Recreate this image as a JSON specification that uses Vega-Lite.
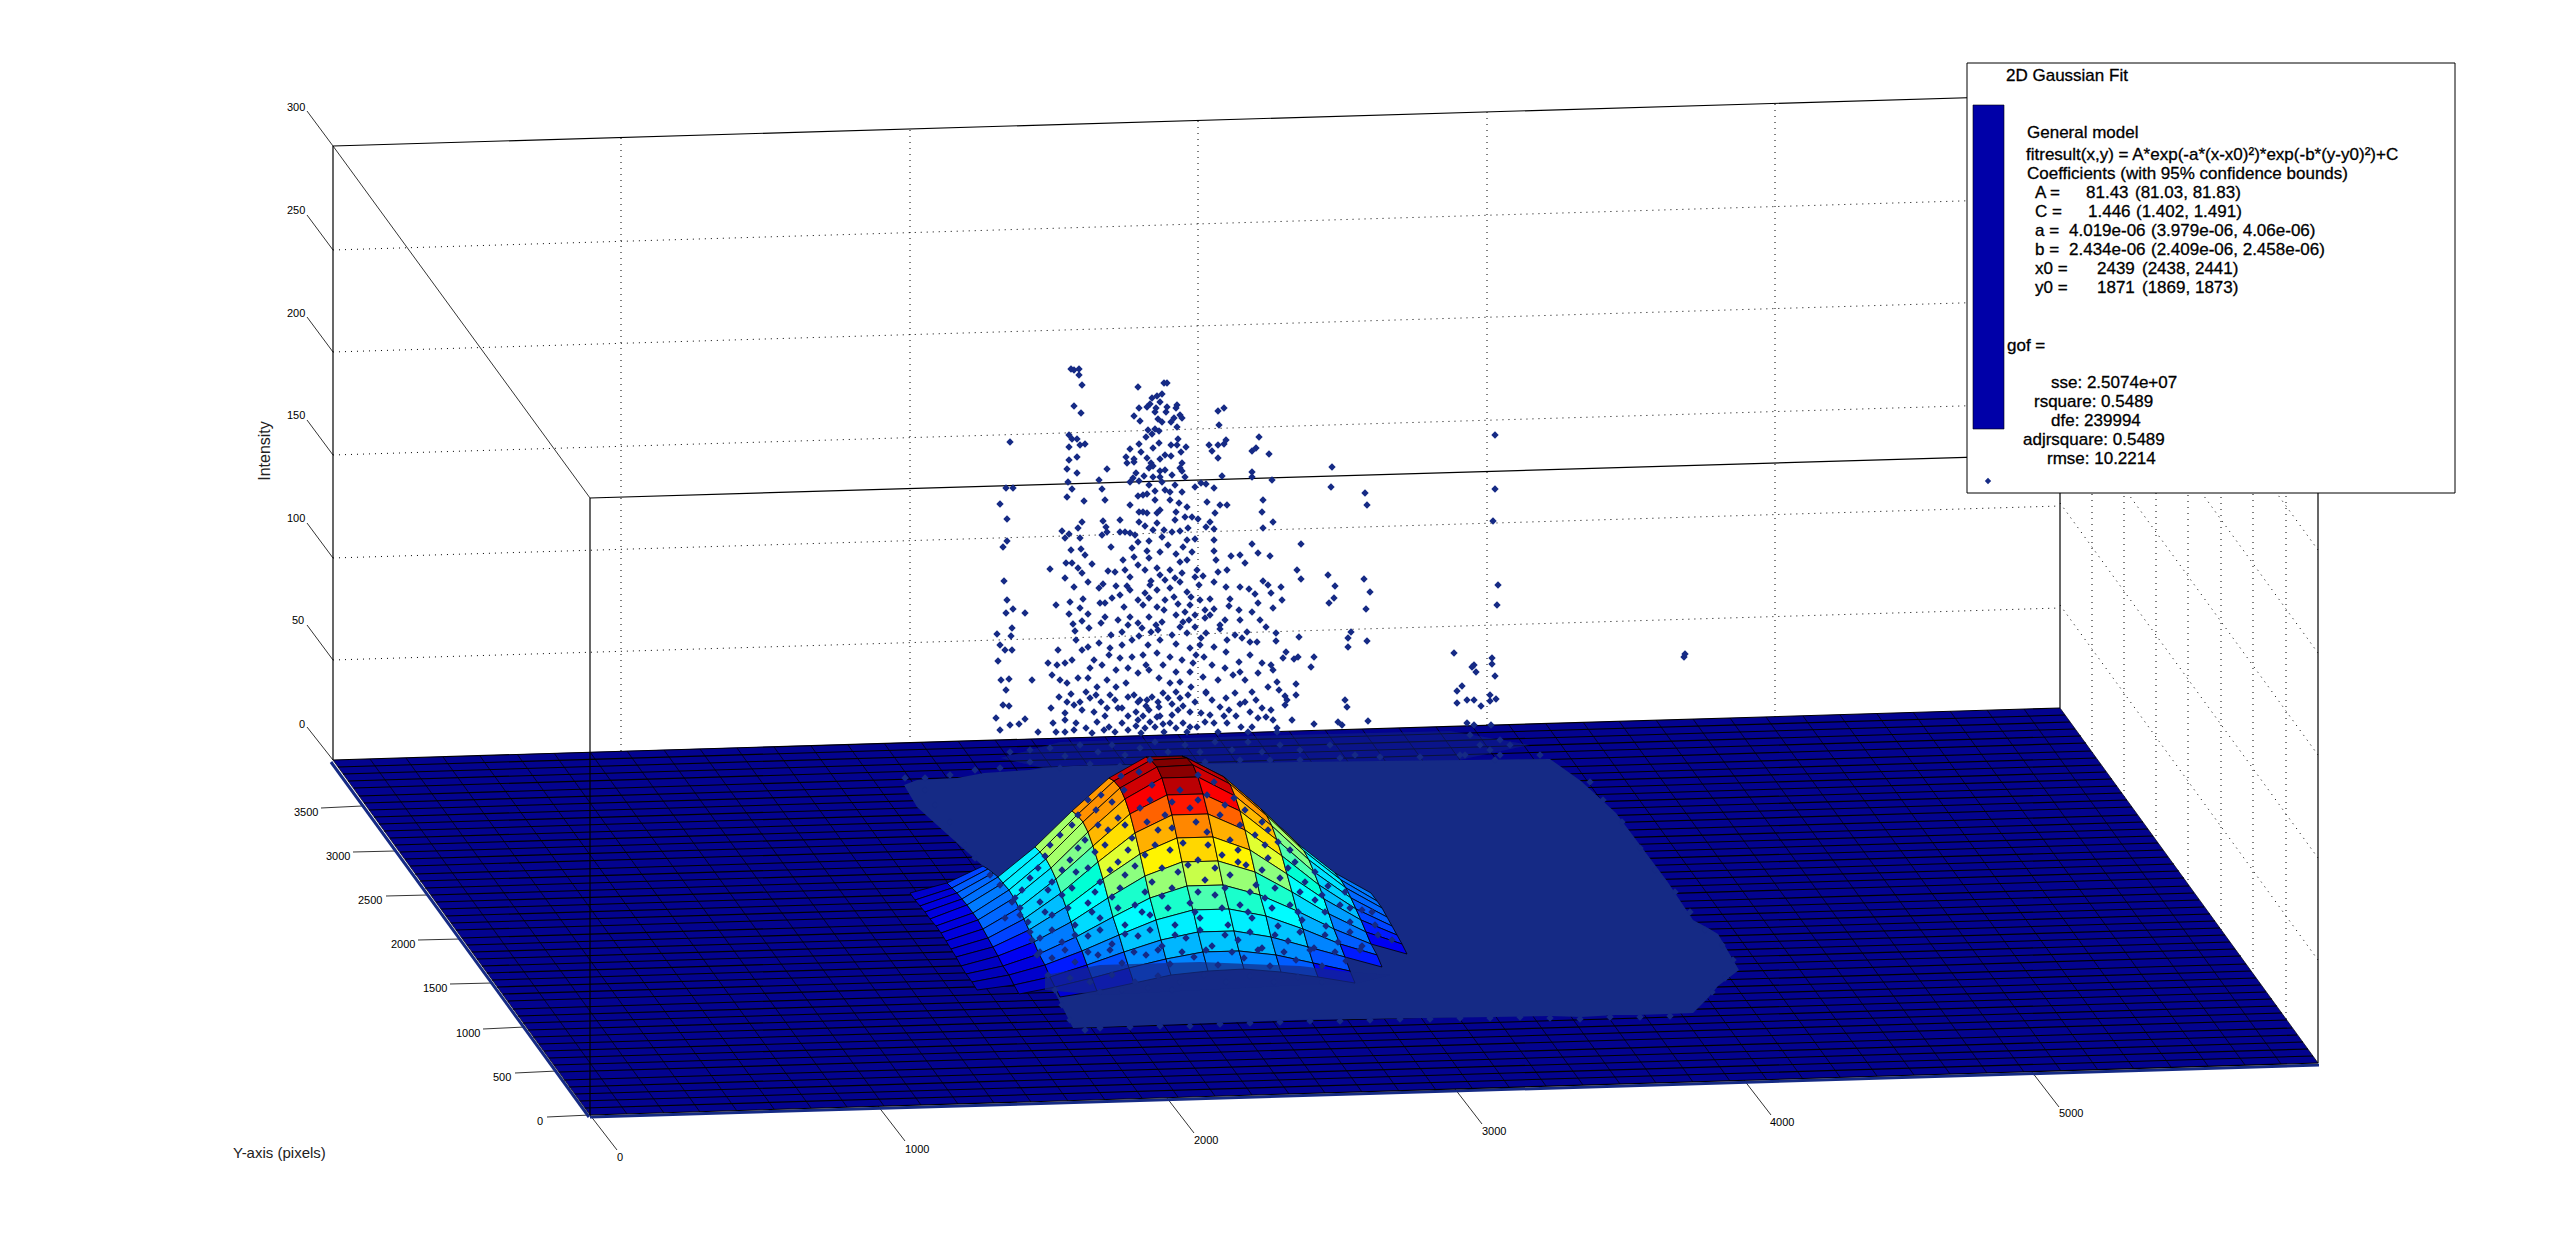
{"$schema":"https://vega.github.io/schema/vega-lite/v6.json","autosize":{"type":"fit","contains":"padding"},"width":2560,"height":1254,"padding":0,"background":"white","config":{"view":{"stroke":null}},
"datasets":{
"grid":[{"x":333,"y":250,"x2":2060,"y2":198},{"x":333,"y":352,"x2":2060,"y2":300},{"x":333,"y":455,"x2":2060,"y2":403},{"x":333,"y":558,"x2":2060,"y2":506},{"x":333,"y":660,"x2":2060,"y2":608},{"x":621,"y":751,"x2":621,"y2":137},{"x":910,"y":743,"x2":910,"y2":129},{"x":1198,"y":734,"x2":1198,"y2":120},{"x":1487,"y":725,"x2":1487,"y2":112},{"x":1775,"y":717,"x2":1775,"y2":103},{"x":2060,"y":605,"x2":2318,"y2":960},{"x":2060,"y":503,"x2":2318,"y2":858},{"x":2060,"y":400,"x2":2318,"y2":755},{"x":2060,"y":298,"x2":2318,"y2":653},{"x":2060,"y":195,"x2":2318,"y2":550},{"x":2286,"y":1019,"x2":2286,"y2":403},{"x":2253,"y":975,"x2":2253,"y2":358},{"x":2221,"y":930,"x2":2221,"y2":314},{"x":2188,"y":886,"x2":2188,"y2":270},{"x":2156,"y":842,"x2":2156,"y2":226},{"x":2124,"y":797,"x2":2124,"y2":181},{"x":2092,"y":753,"x2":2092,"y2":137}],
"box":[{"x":333,"y":146,"x2":333,"y2":760},{"x":333,"y":146,"x2":2060,"y2":95},{"x":590,"y":498,"x2":2318,"y2":447},{"x":2060,"y":95,"x2":2060,"y2":708},{"x":2318,"y":447,"x2":2318,"y2":1063}],
"front":[{"x":590,"y":498,"x2":590,"y2":1115}],
"ticks":[{"x":333,"y":146,"x2":590,"y2":498},{"x":333,"y":146,"x2":307,"y2":111},{"x":333,"y":250,"x2":307,"y2":215},{"x":333,"y":352,"x2":307,"y2":317},{"x":333,"y":455,"x2":307,"y2":420},{"x":333,"y":558,"x2":307,"y2":523},{"x":333,"y":660,"x2":307,"y2":625},{"x":333,"y":760,"x2":307,"y2":727},{"x":590,"y":1115,"x2":547,"y2":1117},{"x":557,"y":1071,"x2":515,"y2":1073},{"x":525,"y":1027,"x2":483,"y2":1029},{"x":492,"y":983,"x2":450,"y2":984},{"x":460,"y":939,"x2":418,"y2":940},{"x":427,"y":895,"x2":386,"y2":896},{"x":395,"y":851,"x2":353,"y2":852},{"x":362,"y":806,"x2":321,"y2":808},{"x":590,"y":1115,"x2":617,"y2":1150},{"x":878,"y":1106,"x2":905,"y2":1141},{"x":1167,"y":1098,"x2":1194,"y2":1133},{"x":1455,"y":1089,"x2":1482,"y2":1124},{"x":1744,"y":1080,"x2":1771,"y2":1115},{"x":2032,"y":1072,"x2":2059,"y2":1107}],
"floor":[{"x":333,"y":760,"y2":760},{"x":590,"y":752,"y2":1115},{"x":2060,"y":708,"y2":1071},{"x":2318,"y":1063,"y2":1063}],
"edge":[{"x":331,"y":762,"x2":589,"y2":1117},{"x":590,"y":1117,"x2":2319,"y2":1065}],
"rowlines":[{"x":590,"y":1115,"x2":2318,"y2":1063},{"x":585,"y":1108,"x2":2313,"y2":1056},{"x":580,"y":1101,"x2":2308,"y2":1049},{"x":575,"y":1094,"x2":2303,"y2":1042},{"x":569,"y":1087,"x2":2297,"y2":1035},{"x":564,"y":1080,"x2":2292,"y2":1028},{"x":559,"y":1072,"x2":2287,"y2":1020},{"x":554,"y":1065,"x2":2282,"y2":1013},{"x":549,"y":1058,"x2":2277,"y2":1006},{"x":544,"y":1051,"x2":2272,"y2":999},{"x":539,"y":1044,"x2":2266,"y2":992},{"x":533,"y":1037,"x2":2261,"y2":985},{"x":528,"y":1030,"x2":2256,"y2":978},{"x":523,"y":1023,"x2":2251,"y2":971},{"x":518,"y":1016,"x2":2246,"y2":964},{"x":513,"y":1009,"x2":2241,"y2":956},{"x":508,"y":1001,"x2":2235,"y2":949},{"x":503,"y":994,"x2":2230,"y2":942},{"x":497,"y":987,"x2":2225,"y2":935},{"x":492,"y":980,"x2":2220,"y2":928},{"x":487,"y":973,"x2":2215,"y2":921},{"x":482,"y":966,"x2":2210,"y2":914},{"x":477,"y":959,"x2":2204,"y2":907},{"x":472,"y":952,"x2":2199,"y2":900},{"x":467,"y":945,"x2":2194,"y2":893},{"x":462,"y":938,"x2":2189,"y2":886},{"x":456,"y":930,"x2":2184,"y2":878},{"x":451,"y":923,"x2":2179,"y2":871},{"x":446,"y":916,"x2":2174,"y2":864},{"x":441,"y":909,"x2":2168,"y2":857},{"x":436,"y":902,"x2":2163,"y2":850},{"x":431,"y":895,"x2":2158,"y2":843},{"x":425,"y":888,"x2":2153,"y2":836},{"x":420,"y":881,"x2":2148,"y2":829},{"x":415,"y":874,"x2":2143,"y2":822},{"x":410,"y":866,"x2":2137,"y2":815},{"x":405,"y":859,"x2":2132,"y2":807},{"x":400,"y":852,"x2":2127,"y2":800},{"x":395,"y":845,"x2":2122,"y2":793},{"x":390,"y":838,"x2":2117,"y2":786},{"x":384,"y":831,"x2":2112,"y2":779},{"x":379,"y":824,"x2":2106,"y2":772},{"x":374,"y":817,"x2":2101,"y2":765},{"x":369,"y":810,"x2":2096,"y2":758},{"x":364,"y":803,"x2":2091,"y2":751},{"x":359,"y":796,"x2":2086,"y2":743},{"x":354,"y":788,"x2":2081,"y2":736},{"x":348,"y":781,"x2":2075,"y2":729},{"x":343,"y":774,"x2":2070,"y2":722},{"x":338,"y":767,"x2":2065,"y2":715},{"x":333,"y":760,"x2":2060,"y2":708}],
"collines":[{"x":590,"y":1115,"x2":333,"y2":760},{"x":627,"y":1114,"x2":370,"y2":759},{"x":664,"y":1113,"x2":406,"y2":758},{"x":700,"y":1112,"x2":443,"y2":757},{"x":737,"y":1111,"x2":480,"y2":756},{"x":774,"y":1109,"x2":517,"y2":754},{"x":811,"y":1108,"x2":554,"y2":753},{"x":847,"y":1107,"x2":590,"y2":752},{"x":884,"y":1106,"x2":627,"y2":751},{"x":921,"y":1105,"x2":664,"y2":750},{"x":958,"y":1104,"x2":700,"y2":749},{"x":994,"y":1103,"x2":737,"y2":748},{"x":1031,"y":1102,"x2":774,"y2":747},{"x":1068,"y":1101,"x2":811,"y2":746},{"x":1105,"y":1100,"x2":848,"y2":745},{"x":1142,"y":1098,"x2":884,"y2":743},{"x":1178,"y":1097,"x2":921,"y2":742},{"x":1215,"y":1096,"x2":958,"y2":741},{"x":1252,"y":1095,"x2":995,"y2":740},{"x":1289,"y":1094,"x2":1031,"y2":739},{"x":1325,"y":1093,"x2":1068,"y2":738},{"x":1362,"y":1092,"x2":1105,"y2":737},{"x":1399,"y":1091,"x2":1142,"y2":736},{"x":1436,"y":1090,"x2":1178,"y2":735},{"x":1472,"y":1088,"x2":1215,"y2":733},{"x":1509,"y":1087,"x2":1252,"y2":732},{"x":1546,"y":1086,"x2":1289,"y2":731},{"x":1583,"y":1085,"x2":1325,"y2":730},{"x":1620,"y":1084,"x2":1362,"y2":729},{"x":1656,"y":1083,"x2":1399,"y2":728},{"x":1693,"y":1082,"x2":1436,"y2":727},{"x":1730,"y":1081,"x2":1472,"y2":726},{"x":1767,"y":1080,"x2":1509,"y2":725},{"x":1803,"y":1079,"x2":1546,"y2":724},{"x":1840,"y":1077,"x2":1583,"y2":722},{"x":1877,"y":1076,"x2":1619,"y2":721},{"x":1914,"y":1075,"x2":1656,"y2":720},{"x":1950,"y":1074,"x2":1693,"y2":719},{"x":1987,"y":1073,"x2":1730,"y2":718},{"x":2024,"y":1072,"x2":1766,"y2":717},{"x":2061,"y":1071,"x2":1803,"y2":716},{"x":2098,"y":1070,"x2":1840,"y2":715},{"x":2134,"y":1069,"x2":1877,"y2":714},{"x":2171,"y":1067,"x2":1913,"y2":712},{"x":2208,"y":1066,"x2":1950,"y2":711},{"x":2245,"y":1065,"x2":1987,"y2":710},{"x":2281,"y":1064,"x2":2024,"y2":709},{"x":2318,"y":1063,"x2":2060,"y2":708}],
"cloud":[{"x":904,"y":785,"y2":785},{"x":917,"y":780,"y2":807},{"x":957,"y":778,"y2":843},{"x":984,"y":773,"y2":867},{"x":1029,"y":770,"y2":927},{"x":1042,"y":768,"y2":967},{"x":1073,"y":766,"y2":1028},{"x":1296,"y":762,"y2":1020},{"x":1550,"y":759,"y2":1016},{"x":1581,"y":781,"y2":1017},{"x":1616,"y":813,"y2":1015},{"x":1637,"y":841,"y2":1015},{"x":1667,"y":881,"y2":1014},{"x":1693,"y":920,"y2":1013},{"x":1708,"y":928,"y2":998},{"x":1718,"y":934,"y2":986},{"x":1739,"y":970,"y2":970}],
"haze":[{"x":1000,"y":758,"y2":758},{"x":1060,"y":742,"y2":772},{"x":1250,"y":736,"y2":767},{"x":1450,"y":731,"y2":762},{"x":1530,"y":745,"y2":745}],
"veil":[{"x":1045,"y":975,"y2":990},{"x":1100,"y":965,"y2":995},{"x":1200,"y":962,"y2":990},{"x":1300,"y":966,"y2":985},{"x":1350,"y":972,"y2":985},{"x":1390,"y":975,"y2":975}],
"quads":[
{"q":200,"f":0.07,"x":[910,947,952,915],"y":[893,883,888,900]},{"q":201,"f":0.15,"x":[947,983,988,952],"y":[883,866,869,888]},{"q":202,"f":0.08,"x":[915,952,957,920],"y":[900,888,893,906]},{"q":203,"f":0.17,"x":[952,988,993,957],"y":[888,869,873,893]},{"q":204,"f":0.09,"x":[920,957,962,925],"y":[906,893,899,912]},{"q":205,"f":0.18,"x":[957,993,998,962],"y":[893,873,877,899]},{"q":206,"f":0.09,"x":[925,962,967,930],"y":[912,899,905,919]},{"q":207,"f":0.19,"x":[962,998,1003,967],"y":[899,877,883,905]},
{"q":0,"f":0.35,"x":[998,1035,1040,1003],"y":[877,847,852,883]},{"q":1,"f":0.55,"x":[1035,1072,1077,1040],"y":[847,811,815,852]},{"q":2,"f":0.76,"x":[1072,1109,1114,1077],"y":[811,778,781,815]},{"q":3,"f":0.92,"x":[1109,1146,1151,1114],"y":[778,757,760,781]},{"q":4,"f":0.99,"x":[1146,1182,1187,1151],"y":[757,756,758,760]},{"q":5,"f":0.92,"x":[1182,1219,1224,1187],"y":[756,775,777,758]},{"q":6,"f":0.76,"x":[1219,1256,1261,1224],"y":[775,805,809,777]},{"q":7,"f":0.55,"x":[1256,1293,1298,1261],"y":[805,839,844,809]},
{"q":8,"f":0.1,"x":[930,967,973,936],"y":[919,905,913,926]},{"q":9,"f":0.2,"x":[967,1003,1009,973],"y":[905,883,890,913]},{"q":10,"f":0.35,"x":[1003,1040,1046,1009],"y":[883,852,859,890]},{"q":11,"f":0.56,"x":[1040,1077,1083,1046],"y":[852,815,822,859]},{"q":12,"f":0.77,"x":[1077,1114,1120,1083],"y":[815,781,788,822]},{"q":13,"f":0.94,"x":[1114,1151,1157,1120],"y":[781,760,767,788]},{"q":14,"f":1,"x":[1151,1187,1193,1157],"y":[760,758,765,767]},{"q":15,"f":0.94,"x":[1187,1224,1230,1193],"y":[758,777,784,765]},{"q":16,"f":0.77,"x":[1224,1261,1267,1230],"y":[777,809,816,784]},{"q":17,"f":0.56,"x":[1261,1298,1304,1267],"y":[809,844,851,816]},{"q":18,"f":0.35,"x":[1298,1335,1341,1304],"y":[844,873,880,851]},{"q":19,"f":0.2,"x":[1335,1371,1377,1341],"y":[873,893,901,880]},
{"q":20,"f":0.09,"x":[936,973,978,941],"y":[926,913,920,933]},{"q":21,"f":0.19,"x":[973,1009,1014,978],"y":[913,890,898,920]},{"q":22,"f":0.35,"x":[1009,1046,1051,1014],"y":[890,859,868,898]},{"q":23,"f":0.55,"x":[1046,1083,1088,1051],"y":[859,822,832,868]},{"q":24,"f":0.76,"x":[1083,1120,1125,1088],"y":[822,788,799,832]},{"q":25,"f":0.92,"x":[1120,1157,1162,1125],"y":[788,767,778,799]},{"q":26,"f":0.99,"x":[1157,1193,1198,1162],"y":[767,765,777,778]},{"q":27,"f":0.92,"x":[1193,1230,1235,1198],"y":[765,784,796,777]},{"q":28,"f":0.76,"x":[1230,1267,1272,1235],"y":[784,816,826,796]},{"q":29,"f":0.55,"x":[1267,1304,1309,1272],"y":[816,851,860,826]},{"q":30,"f":0.35,"x":[1304,1341,1346,1309],"y":[851,880,888,860]},{"q":31,"f":0.19,"x":[1341,1377,1382,1346],"y":[880,901,908,888]},
{"q":32,"f":0.09,"x":[941,978,983,946],"y":[933,920,929,941]},{"q":33,"f":0.18,"x":[978,1014,1019,983],"y":[920,898,908,929]},{"q":34,"f":0.33,"x":[1014,1051,1056,1019],"y":[898,868,879,908]},{"q":35,"f":0.52,"x":[1051,1088,1093,1056],"y":[868,832,846,879]},{"q":36,"f":0.72,"x":[1088,1125,1130,1093],"y":[832,799,814,846]},{"q":37,"f":0.88,"x":[1125,1162,1167,1130],"y":[799,778,795,814]},{"q":38,"f":0.94,"x":[1162,1198,1203,1167],"y":[778,777,794,795]},{"q":39,"f":0.88,"x":[1198,1235,1240,1203],"y":[777,796,811,794]},{"q":40,"f":0.72,"x":[1235,1272,1277,1240],"y":[796,826,840,811]},{"q":41,"f":0.52,"x":[1272,1309,1314,1277],"y":[826,860,872,840]},{"q":42,"f":0.33,"x":[1309,1346,1351,1314],"y":[860,888,898,872]},{"q":43,"f":0.18,"x":[1346,1382,1387,1351],"y":[888,908,917,898]},
{"q":44,"f":0.08,"x":[946,983,988,951],"y":[941,929,938,949]},{"q":45,"f":0.17,"x":[983,1019,1024,988],"y":[929,908,919,938]},{"q":46,"f":0.31,"x":[1019,1056,1061,1024],"y":[908,879,893,919]},{"q":47,"f":0.48,"x":[1056,1093,1098,1061],"y":[879,846,862,893]},{"q":48,"f":0.67,"x":[1093,1130,1135,1098],"y":[846,814,833,862]},{"q":49,"f":0.82,"x":[1130,1167,1172,1135],"y":[814,795,815,833]},{"q":50,"f":0.87,"x":[1167,1203,1208,1172],"y":[795,794,814,815]},{"q":51,"f":0.82,"x":[1203,1240,1245,1208],"y":[794,811,830,814]},{"q":52,"f":0.67,"x":[1240,1277,1282,1245],"y":[811,840,856,830]},{"q":53,"f":0.48,"x":[1277,1314,1319,1282],"y":[840,872,885,856]},{"q":54,"f":0.31,"x":[1314,1351,1356,1319],"y":[872,898,909,885]},{"q":55,"f":0.17,"x":[1351,1387,1392,1356],"y":[898,917,926,909]},
{"q":56,"f":0.07,"x":[951,988,993,956],"y":[949,938,947,957]},{"q":57,"f":0.15,"x":[988,1024,1029,993],"y":[938,919,930,947]},{"q":58,"f":0.28,"x":[1024,1061,1066,1029],"y":[919,893,907,930]},{"q":59,"f":0.44,"x":[1061,1098,1103,1066],"y":[893,862,879,907]},{"q":60,"f":0.6,"x":[1098,1135,1140,1103],"y":[862,833,854,879]},{"q":61,"f":0.73,"x":[1135,1172,1177,1140],"y":[833,815,838,854]},{"q":62,"f":0.78,"x":[1172,1208,1213,1177],"y":[815,814,837,838]},{"q":63,"f":0.73,"x":[1208,1245,1250,1213],"y":[814,830,850,837]},{"q":64,"f":0.6,"x":[1245,1282,1287,1250],"y":[830,856,874,850]},{"q":65,"f":0.44,"x":[1282,1319,1324,1287],"y":[856,885,899,874]},{"q":66,"f":0.28,"x":[1319,1356,1361,1324],"y":[885,909,920,899]},{"q":67,"f":0.15,"x":[1356,1392,1397,1361],"y":[909,926,935,920]},
{"q":68,"f":0.06,"x":[956,993,998,961],"y":[957,947,956,966]},{"q":69,"f":0.13,"x":[993,1029,1034,998],"y":[947,930,942,956]},{"q":70,"f":0.24,"x":[1029,1066,1071,1034],"y":[930,907,922,942]},{"q":71,"f":0.38,"x":[1066,1103,1108,1071],"y":[907,879,898,922]},{"q":72,"f":0.53,"x":[1103,1140,1145,1108],"y":[879,854,876,898]},{"q":73,"f":0.64,"x":[1140,1177,1182,1145],"y":[854,838,862,876]},{"q":74,"f":0.68,"x":[1177,1213,1218,1182],"y":[838,837,861,862]},{"q":75,"f":0.64,"x":[1213,1250,1255,1218],"y":[837,850,872,861]},{"q":76,"f":0.53,"x":[1250,1287,1292,1255],"y":[850,874,892,872]},{"q":77,"f":0.38,"x":[1287,1324,1329,1292],"y":[874,899,914,892]},{"q":78,"f":0.24,"x":[1324,1361,1366,1329],"y":[899,920,932,914]},{"q":79,"f":0.13,"x":[1361,1397,1402,1366],"y":[920,935,944,932]},
{"q":80,"f":0.06,"x":[961,998,1003,966],"y":[966,956,966,974]},{"q":81,"f":0.11,"x":[998,1034,1039,1003],"y":[956,942,954,966]},{"q":82,"f":0.2,"x":[1034,1071,1076,1039],"y":[942,922,937,954]},{"q":83,"f":0.32,"x":[1071,1108,1113,1076],"y":[922,898,917,937]},{"q":84,"f":0.45,"x":[1108,1145,1150,1113],"y":[898,876,898,917]},{"q":85,"f":0.54,"x":[1145,1182,1187,1150],"y":[876,862,886,898]},{"q":86,"f":0.58,"x":[1182,1218,1223,1187],"y":[862,861,885,886]},{"q":87,"f":0.54,"x":[1218,1255,1260,1223],"y":[861,872,895,885]},{"q":88,"f":0.45,"x":[1255,1292,1297,1260],"y":[872,892,911,895]},{"q":89,"f":0.32,"x":[1292,1329,1334,1297],"y":[892,914,929,911]},{"q":90,"f":0.2,"x":[1329,1366,1371,1334],"y":[914,932,944,929]},{"q":91,"f":0.11,"x":[1366,1402,1407,1371],"y":[932,944,954,944]},
{"q":92,"f":0.05,"x":[966,1003,1009,972],"y":[974,966,975,982]},{"q":93,"f":0.09,"x":[1003,1039,1045,1009],"y":[966,954,965,975]},{"q":94,"f":0.17,"x":[1039,1076,1082,1045],"y":[954,937,951,965]},{"q":95,"f":0.26,"x":[1076,1113,1119,1082],"y":[937,917,935,951]},{"q":96,"f":0.37,"x":[1113,1150,1156,1119],"y":[917,898,920,935]},{"q":97,"f":0.45,"x":[1150,1187,1193,1156],"y":[898,886,910,920]},{"q":98,"f":0.48,"x":[1187,1223,1229,1193],"y":[886,885,909,910]},{"q":99,"f":0.45,"x":[1223,1260,1266,1229],"y":[885,895,916,909]},{"q":100,"f":0.37,"x":[1260,1297,1303,1266],"y":[895,911,929,916]},{"q":101,"f":0.26,"x":[1297,1334,1340,1303],"y":[911,929,944,929]},{"q":102,"f":0.17,"x":[1334,1371,1377,1340],"y":[929,944,955,944]},
{"q":103,"f":0.04,"x":[972,1009,1014,977],"y":[982,975,985,990]},{"q":104,"f":0.07,"x":[1009,1045,1050,1014],"y":[975,965,977,985]},{"q":105,"f":0.13,"x":[1045,1082,1087,1050],"y":[965,951,965,977]},{"q":106,"f":0.21,"x":[1082,1119,1124,1087],"y":[951,935,952,965]},{"q":107,"f":0.29,"x":[1119,1156,1161,1124],"y":[935,920,940,952]},{"q":108,"f":0.35,"x":[1156,1193,1198,1161],"y":[920,910,932,940]},{"q":109,"f":0.38,"x":[1193,1229,1234,1198],"y":[910,909,931,932]},{"q":110,"f":0.35,"x":[1229,1266,1271,1234],"y":[909,916,937,931]},{"q":111,"f":0.29,"x":[1266,1303,1308,1271],"y":[916,929,947,937]},{"q":112,"f":0.21,"x":[1303,1340,1345,1308],"y":[929,944,957,947]},{"q":113,"f":0.13,"x":[1340,1377,1382,1345],"y":[944,955,967,957]},
{"q":114,"f":0.06,"x":[1014,1050,1055,1019],"y":[985,977,987,994]},{"q":115,"f":0.1,"x":[1050,1087,1092,1055],"y":[977,965,978,987]},{"q":116,"f":0.16,"x":[1087,1124,1129,1092],"y":[965,952,968,978]},{"q":117,"f":0.22,"x":[1124,1161,1166,1129],"y":[952,940,959,968]},{"q":118,"f":0.27,"x":[1161,1198,1203,1166],"y":[940,932,952,959]},{"q":119,"f":0.29,"x":[1198,1234,1239,1203],"y":[932,931,951,952]},{"q":120,"f":0.27,"x":[1234,1271,1276,1239],"y":[931,937,955,951]},{"q":121,"f":0.22,"x":[1271,1308,1313,1276],"y":[937,947,963,955]},{"q":122,"f":0.16,"x":[1308,1345,1350,1313],"y":[947,957,971,963]},
{"q":123,"f":0.08,"x":[1055,1092,1097,1060],"y":[987,978,991,997]},{"q":124,"f":0.12,"x":[1092,1129,1134,1097],"y":[978,968,983,991]},{"q":125,"f":0.17,"x":[1129,1166,1171,1134],"y":[968,959,975,983]},{"q":126,"f":0.21,"x":[1166,1203,1208,1171],"y":[959,952,971,975]},{"q":127,"f":0.22,"x":[1203,1239,1244,1208],"y":[952,951,969,971]},{"q":128,"f":0.21,"x":[1239,1276,1281,1244],"y":[951,955,972,969]},{"q":129,"f":0.17,"x":[1276,1313,1318,1281],"y":[955,963,977,972]},{"q":130,"f":0.12,"x":[1313,1350,1355,1318],"y":[963,971,983,977]}],
"points":[{"x":1071,"y":369},{"x":1074,"y":370},{"x":1079,"y":369},{"x":1079,"y":375},{"x":1082,"y":385},{"x":1074,"y":406},{"x":1081,"y":413},{"x":1138,"y":387},{"x":1164,"y":383},{"x":1167,"y":383},{"x":1162,"y":394},{"x":1157,"y":396},{"x":1152,"y":398},{"x":1160,"y":402},{"x":1150,"y":404},{"x":1139,"y":408},{"x":1147,"y":407},{"x":1156,"y":408},{"x":1177,"y":405},{"x":1167,"y":407},{"x":1176,"y":408},{"x":1134,"y":416},{"x":1140,"y":421},{"x":1155,"y":412},{"x":1166,"y":412},{"x":1180,"y":415},{"x":1174,"y":418},{"x":1182,"y":418},{"x":1158,"y":419},{"x":1171,"y":422},{"x":1162,"y":422},{"x":1177,"y":427},{"x":1148,"y":430},{"x":1155,"y":429},{"x":1159,"y":431},{"x":1152,"y":434},{"x":1146,"y":437},{"x":1178,"y":439},{"x":1139,"y":444},{"x":1159,"y":443},{"x":1153,"y":448},{"x":1171,"y":445},{"x":1177,"y":445},{"x":1186,"y":447},{"x":1130,"y":449},{"x":1141,"y":452},{"x":1126,"y":457},{"x":1134,"y":459},{"x":1147,"y":458},{"x":1165,"y":455},{"x":1171,"y":456},{"x":1160,"y":459},{"x":1181,"y":452},{"x":1127,"y":463},{"x":1134,"y":462},{"x":1151,"y":463},{"x":1153,"y":466},{"x":1182,"y":463},{"x":1180,"y":468},{"x":1149,"y":468},{"x":1160,"y":471},{"x":1165,"y":470},{"x":1136,"y":473},{"x":1182,"y":471},{"x":1133,"y":478},{"x":1144,"y":476},{"x":1153,"y":477},{"x":1160,"y":477},{"x":1172,"y":475},{"x":1185,"y":477},{"x":1130,"y":482},{"x":1139,"y":481},{"x":1162,"y":482},{"x":1201,"y":483},{"x":1206,"y":484},{"x":1195,"y":487},{"x":1149,"y":485},{"x":1170,"y":492},{"x":1182,"y":492},{"x":1138,"y":496},{"x":1147,"y":494},{"x":1155,"y":491},
{"x":1010,"y":442},{"x":1006,"y":488},{"x":1013,"y":488},{"x":1000,"y":504},{"x":1007,"y":519},{"x":1007,"y":541},{"x":1003,"y":547},{"x":1004,"y":581},{"x":1007,"y":600},{"x":1006,"y":613},{"x":1013,"y":609},{"x":1025,"y":613},{"x":1012,"y":628},{"x":1011,"y":636},{"x":997,"y":634},{"x":1000,"y":645},{"x":1005,"y":650},{"x":1012,"y":650},{"x":998,"y":661},{"x":1009,"y":679},{"x":1001,"y":680},{"x":1032,"y":680},{"x":1006,"y":690},{"x":1003,"y":705},{"x":1009,"y":706},{"x":996,"y":718},{"x":1010,"y":725},{"x":1025,"y":719},{"x":1019,"y":724},{"x":1000,"y":730},{"x":1038,"y":732},
{"x":1069,"y":435},{"x":1072,"y":439},{"x":1077,"y":439},{"x":1069,"y":447},{"x":1080,"y":445},{"x":1085,"y":444},{"x":1077,"y":457},{"x":1069,"y":460},{"x":1067,"y":469},{"x":1077,"y":473},{"x":1107,"y":469},{"x":1099,"y":480},{"x":1068,"y":482},{"x":1072,"y":489},{"x":1102,"y":489},{"x":1067,"y":497},{"x":1084,"y":501},{"x":1105,"y":500},{"x":1082,"y":522},{"x":1103,"y":521},{"x":1106,"y":527},{"x":1078,"y":528},{"x":1062,"y":531},{"x":1069,"y":534},{"x":1102,"y":535},{"x":1065,"y":538},{"x":1080,"y":538},{"x":1120,"y":532},{"x":1125,"y":532},{"x":1107,"y":532},{"x":1111,"y":547},{"x":1071,"y":550},{"x":1081,"y":549},{"x":1085,"y":555},{"x":1066,"y":563},{"x":1072,"y":563},{"x":1092,"y":564},{"x":1050,"y":569},{"x":1078,"y":568},{"x":1082,"y":573},{"x":1108,"y":571},{"x":1115,"y":572},{"x":1065,"y":578},{"x":1088,"y":582},{"x":1074,"y":587},{"x":1103,"y":584},{"x":1099,"y":588},{"x":1116,"y":586},{"x":1056,"y":605},{"x":1070,"y":602},{"x":1083,"y":599},{"x":1100,"y":603},{"x":1105,"y":603},{"x":1080,"y":608},{"x":1069,"y":614},{"x":1088,"y":614},{"x":1105,"y":617},{"x":1082,"y":621},{"x":1073,"y":624},{"x":1101,"y":623},{"x":1089,"y":628},{"x":1075,"y":631},
{"x":1139,"y":512},{"x":1143,"y":512},{"x":1147,"y":513},{"x":1157,"y":513},{"x":1160,"y":510},{"x":1170,"y":500},{"x":1179,"y":503},{"x":1187,"y":507},{"x":1176,"y":512},{"x":1185,"y":517},{"x":1192,"y":517},{"x":1198,"y":519},{"x":1139,"y":522},{"x":1157,"y":523},{"x":1145,"y":526},{"x":1164,"y":530},{"x":1172,"y":532},{"x":1180,"y":531},{"x":1130,"y":533},{"x":1162,"y":537},{"x":1138,"y":542},{"x":1149,"y":541},{"x":1132,"y":548},{"x":1147,"y":551},{"x":1160,"y":552},{"x":1187,"y":540},{"x":1195,"y":539},{"x":1183,"y":547},{"x":1176,"y":554},{"x":1134,"y":557},{"x":1149,"y":558},{"x":1180,"y":562},{"x":1187,"y":560},{"x":1123,"y":560},{"x":1138,"y":565},{"x":1170,"y":570},{"x":1157,"y":568},{"x":1182,"y":573},{"x":1197,"y":570},{"x":1195,"y":577},{"x":1203,"y":576},{"x":1160,"y":575},{"x":1151,"y":581},{"x":1130,"y":577},{"x":1127,"y":586},{"x":1180,"y":582},{"x":1199,"y":585},{"x":1170,"y":588},{"x":1145,"y":593},{"x":1157,"y":590},{"x":1187,"y":592},{"x":1138,"y":600},{"x":1149,"y":598},{"x":1174,"y":597},{"x":1191,"y":597},{"x":1124,"y":607},{"x":1143,"y":605},{"x":1157,"y":607},{"x":1178,"y":604},{"x":1164,"y":610},{"x":1130,"y":617},{"x":1149,"y":617},{"x":1138,"y":623},{"x":1183,"y":622},{"x":1189,"y":620},{"x":1180,"y":627},{"x":1195,"y":627},{"x":1162,"y":622},{"x":1151,"y":632},{"x":1122,"y":632},{"x":1111,"y":635},{"x":1139,"y":636},{"x":1172,"y":635},{"x":1187,"y":633},
{"x":1218,"y":411},{"x":1224,"y":408},{"x":1219,"y":425},{"x":1209,"y":445},{"x":1218,"y":445},{"x":1224,"y":444},{"x":1226,"y":440},{"x":1212,"y":451},{"x":1218,"y":458},{"x":1259,"y":437},{"x":1256,"y":448},{"x":1252,"y":451},{"x":1269,"y":454},{"x":1252,"y":472},{"x":1222,"y":476},{"x":1252,"y":477},{"x":1272,"y":480},{"x":1214,"y":488},{"x":1332,"y":467},{"x":1331,"y":487},{"x":1365,"y":493},{"x":1367,"y":505},{"x":1495,"y":435},{"x":1495,"y":489},{"x":1493,"y":521},{"x":1207,"y":502},{"x":1220,"y":505},{"x":1227,"y":505},{"x":1263,"y":500},{"x":1262,"y":512},{"x":1215,"y":513},{"x":1273,"y":522},{"x":1210,"y":522},{"x":1206,"y":527},{"x":1214,"y":529},{"x":1263,"y":528},{"x":1214,"y":540},{"x":1252,"y":544},{"x":1301,"y":544},{"x":1258,"y":553},{"x":1270,"y":556},{"x":1214,"y":551},{"x":1231,"y":556},{"x":1240,"y":555},{"x":1245,"y":563},{"x":1216,"y":560},{"x":1227,"y":570},{"x":1218,"y":572},{"x":1297,"y":570},{"x":1301,"y":579},{"x":1328,"y":575},{"x":1364,"y":579},{"x":1335,"y":586},{"x":1370,"y":592},{"x":1498,"y":585},{"x":1263,"y":581},{"x":1268,"y":585},{"x":1281,"y":587},{"x":1240,"y":587},{"x":1226,"y":587},{"x":1214,"y":582},{"x":1249,"y":589},{"x":1255,"y":594},{"x":1271,"y":593},{"x":1282,"y":600},{"x":1230,"y":599},{"x":1210,"y":599},{"x":1334,"y":598},{"x":1329,"y":603},{"x":1258,"y":603},{"x":1229,"y":606},{"x":1239,"y":610},{"x":1252,"y":612},{"x":1273,"y":608},{"x":1366,"y":609},{"x":1497,"y":605},{"x":1214,"y":609},{"x":1220,"y":625},{"x":1266,"y":627},{"x":1220,"y":629},{"x":1351,"y":632},{"x":1348,"y":638},{"x":1367,"y":641},{"x":1348,"y":647},{"x":1247,"y":632},{"x":1276,"y":633},{"x":1235,"y":635},{"x":1242,"y":638},{"x":1299,"y":637},{"x":1276,"y":641},{"x":1257,"y":642},{"x":1250,"y":642},{"x":1227,"y":640},{"x":1206,"y":633},{"x":1201,"y":638},
{"x":1454,"y":653},{"x":1492,"y":658},{"x":1492,"y":664},{"x":1474,"y":665},{"x":1472,"y":667},{"x":1476,"y":672},{"x":1495,"y":676},{"x":1462,"y":686},{"x":1457,"y":691},{"x":1490,"y":695},{"x":1496,"y":699},{"x":1467,"y":700},{"x":1474,"y":700},{"x":1457,"y":703},{"x":1490,"y":701},{"x":1481,"y":706},{"x":1467,"y":723},{"x":1491,"y":725},{"x":1474,"y":725},{"x":1345,"y":700},{"x":1347,"y":707},{"x":1338,"y":722},{"x":1342,"y":725},{"x":1368,"y":721},{"x":1314,"y":724},{"x":1314,"y":657},{"x":1311,"y":667},{"x":1298,"y":657},{"x":1294,"y":659},{"x":1286,"y":652},{"x":1283,"y":658},{"x":1296,"y":684},{"x":1296,"y":695},{"x":1287,"y":700},{"x":1285,"y":696},{"x":1279,"y":690},{"x":1277,"y":682},{"x":1268,"y":687},{"x":1292,"y":720},{"x":1277,"y":732},{"x":1684,"y":657},{"x":1685,"y":654},
{"x":1048,"y":663},{"x":1057,"y":665},{"x":1065,"y":663},{"x":1072,"y":660},{"x":1082,"y":650},{"x":1088,"y":647},{"x":1099,"y":643},{"x":1109,"y":655},{"x":1120,"y":658},{"x":1132,"y":657},{"x":1143,"y":655},{"x":1157,"y":653},{"x":1170,"y":657},{"x":1182,"y":660},{"x":1193,"y":663},{"x":1204,"y":657},{"x":1214,"y":647},{"x":1226,"y":652},{"x":1239,"y":662},{"x":1250,"y":655},{"x":1262,"y":663},{"x":1271,"y":665},{"x":1067,"y":683},{"x":1078,"y":678},{"x":1088,"y":678},{"x":1097,"y":687},{"x":1107,"y":680},{"x":1116,"y":687},{"x":1126,"y":683},{"x":1138,"y":673},{"x":1149,"y":670},{"x":1159,"y":678},{"x":1170,"y":683},{"x":1180,"y":682},{"x":1191,"y":687},{"x":1203,"y":677},{"x":1218,"y":680},{"x":1233,"y":675},{"x":1245,"y":680},{"x":1258,"y":673},{"x":1273,"y":670},{"x":1252,"y":692},{"x":1235,"y":693},{"x":1206,"y":692},{"x":1051,"y":708},{"x":1059,"y":697},{"x":1067,"y":702},{"x":1080,"y":702},{"x":1090,"y":698},{"x":1101,"y":702},{"x":1107,"y":708},{"x":1118,"y":708},{"x":1128,"y":697},{"x":1138,"y":702},{"x":1147,"y":700},{"x":1159,"y":707},{"x":1168,"y":698},{"x":1180,"y":698},{"x":1195,"y":702},{"x":1206,"y":693},{"x":1220,"y":707},{"x":1229,"y":710},{"x":1245,"y":702},{"x":1256,"y":700},{"x":1271,"y":710},{"x":1285,"y":705},{"x":1201,"y":713},{"x":1178,"y":710},{"x":1149,"y":710},{"x":1082,"y":710},{"x":1065,"y":713},{"x":1053,"y":723},{"x":1065,"y":720},{"x":1076,"y":723},{"x":1086,"y":728},{"x":1097,"y":722},{"x":1109,"y":727},{"x":1122,"y":723},{"x":1138,"y":720},{"x":1145,"y":728},{"x":1157,"y":717},{"x":1170,"y":723},{"x":1183,"y":723},{"x":1197,"y":727},{"x":1214,"y":723},{"x":1227,"y":723},{"x":1241,"y":727},{"x":1252,"y":727},{"x":1266,"y":717},{"x":1273,"y":720},{"x":1277,"y":728},{"x":1065,"y":732},{"x":1115,"y":732},{"x":1141,"y":733},{"x":1164,"y":732},{"x":1187,"y":732},{"x":1218,"y":732},{"x":1248,"y":732},
{"x":1134,"y":695},{"x":1140,"y":700},{"x":1146,"y":706},{"x":1152,"y":697},{"x":1158,"y":702},{"x":1163,"y":693},{"x":1172,"y":704},{"x":1176,"y":692},{"x":1183,"y":706},{"x":1188,"y":695},{"x":1190,"y":712},{"x":1172,"y":715},{"x":1160,"y":716},{"x":1150,"y":722},{"x":1143,"y":716},{"x":1136,"y":712},{"x":1128,"y":716},{"x":1122,"y":708},{"x":1115,"y":700},{"x":1110,"y":695},{"x":1105,"y":716},{"x":1094,"y":712},{"x":1074,"y":705},{"x":1071,"y":694},{"x":1086,"y":692},{"x":1096,"y":695},{"x":1155,"y":727},{"x":1163,"y":724},{"x":1176,"y":728},{"x":1190,"y":727},{"x":1205,"y":722},{"x":1210,"y":715},{"x":1224,"y":716},{"x":1236,"y":716},{"x":1240,"y":704},{"x":1250,"y":712},{"x":1258,"y":718},{"x":1262,"y":708},{"x":1212,"y":700},{"x":1226,"y":698},{"x":1136,"y":726},{"x":1128,"y":730},{"x":1104,"y":730},{"x":1092,"y":733},{"x":1074,"y":730},{"x":1056,"y":732},{"x":1132,"y":640},{"x":1148,"y":645},{"x":1160,"y":640},{"x":1176,"y":644},{"x":1190,"y":648},{"x":1200,"y":645},{"x":1110,"y":648},{"x":1122,"y":645},{"x":1094,"y":660},{"x":1076,"y":640},{"x":1058,"y":650},{"x":1052,"y":675},{"x":1060,"y":680},{"x":1090,"y":668},{"x":1102,"y":665},{"x":1116,"y":670},{"x":1128,"y":668},{"x":1163,"y":665},{"x":1176,"y":672},{"x":1190,"y":672},{"x":1212,"y":665},{"x":1225,"y":668},{"x":1240,"y":672},{"x":1196,"y":655},{"x":1146,"y":665},{"x":1130,"y":590},{"x":1120,"y":595},{"x":1112,"y":598},{"x":1150,"y":585},{"x":1165,"y":580},{"x":1175,"y":578},{"x":1190,"y":605},{"x":1200,"y":600},{"x":1205,"y":610},{"x":1165,"y":600},{"x":1185,"y":612},{"x":1195,"y":615},{"x":1128,"y":625},{"x":1118,"y":620},{"x":1142,"y":628},{"x":1158,"y":630},{"x":1205,"y":618},{"x":1156,"y":625},{"x":1176,"y":615},{"x":1145,"y":570},{"x":1125,"y":570},{"x":1135,"y":535},{"x":1153,"y":530},{"x":1175,"y":520},{"x":1188,"y":528},{"x":1168,"y":545},{"x":1192,"y":552},{"x":1143,"y":495},{"x":1155,"y":500},{"x":1165,"y":490},{"x":1130,"y":505},{"x":1175,"y":485},{"x":1120,"y":520},{"x":1240,"y":620},{"x":1260,"y":620},{"x":1225,"y":620},{"x":1210,"y":615},
{"x":1010,"y":752},{"x":1030,"y":750},{"x":1050,"y":748},{"x":1065,"y":756},{"x":1080,"y":745},{"x":1098,"y":752},{"x":1112,"y":745},{"x":1125,"y":755},{"x":1140,"y":748},{"x":1155,"y":742},{"x":1168,"y":752},{"x":1185,"y":745},{"x":1200,"y":752},{"x":1215,"y":742},{"x":1232,"y":750},{"x":1248,"y":742},{"x":1262,"y":752},{"x":1280,"y":745},{"x":1030,"y":762},{"x":1060,"y":768},{"x":1090,"y":764},{"x":1120,"y":766},{"x":1150,"y":760},{"x":1205,"y":762},{"x":1240,"y":760},{"x":1270,"y":760},{"x":1300,"y":750},{"x":1330,"y":745},{"x":1355,"y":755},{"x":1470,"y":735},{"x":1480,"y":745},{"x":1490,"y":750},{"x":1500,"y":740},{"x":1465,"y":755},{"x":1495,"y":760},{"x":1510,"y":745},
{"x":925,"y":790},{"x":935,"y":805},{"x":950,"y":822},{"x":965,"y":845},{"x":975,"y":858},{"x":990,"y":875},{"x":1000,"y":885},{"x":1012,"y":902},{"x":1020,"y":915},{"x":1032,"y":940},{"x":1037,"y":955},{"x":1048,"y":975},{"x":1055,"y":990},{"x":1062,"y":1005},{"x":1070,"y":1020},{"x":1085,"y":1030},{"x":905,"y":778},{"x":1100,"y":1028},{"x":1130,"y":1027},{"x":1160,"y":1026},{"x":1190,"y":1026},{"x":1220,"y":1024},{"x":1250,"y":1023},{"x":1280,"y":1022},{"x":1310,"y":1021},{"x":1340,"y":1021},{"x":1370,"y":1020},{"x":1400,"y":1019},{"x":1430,"y":1019},{"x":1460,"y":1018},{"x":1490,"y":1018},{"x":1520,"y":1017},{"x":1550,"y":1018},{"x":1580,"y":1019},{"x":1610,"y":1017},{"x":1640,"y":1017},{"x":1670,"y":1016},{"x":1590,"y":782},{"x":1603,"y":800},{"x":1622,"y":822},{"x":1640,"y":848},{"x":1655,"y":870},{"x":1675,"y":892},{"x":1690,"y":912},{"x":1705,"y":930},{"x":1722,"y":945},{"x":1733,"y":960},{"x":1725,"y":978},{"x":1712,"y":992},{"x":925,"y":778},{"x":950,"y":775},{"x":975,"y":770},{"x":1000,"y":768},{"x":1300,"y":760},{"x":1340,"y":758},{"x":1380,"y":757},{"x":1420,"y":757},{"x":1460,"y":755},{"x":1500,"y":755},{"x":1540,"y":755},
{"x":1121,"y":776},{"x":1139,"y":772},{"x":1198,"y":775},{"x":1214,"y":782},{"x":1101,"y":795},{"x":1124,"y":790},{"x":1152,"y":785},{"x":1180,"y":790},{"x":1207,"y":795},{"x":1234,"y":798},{"x":1078,"y":815},{"x":1096,"y":810},{"x":1118,"y":818},{"x":1140,"y":808},{"x":1165,"y":815},{"x":1190,"y":808},{"x":1220,"y":815},{"x":1245,"y":810},{"x":1262,"y":822},{"x":1060,"y":835},{"x":1085,"y":840},{"x":1108,"y":830},{"x":1132,"y":838},{"x":1158,"y":830},{"x":1183,"y":843},{"x":1207,"y":832},{"x":1230,"y":840},{"x":1255,"y":835},{"x":1278,"y":842},{"x":1045,"y":856},{"x":1070,"y":860},{"x":1095,"y":852},{"x":1118,"y":862},{"x":1145,"y":855},{"x":1170,"y":850},{"x":1198,"y":860},{"x":1222,"y":855},{"x":1246,"y":865},{"x":1268,"y":858},{"x":1295,"y":862},{"x":1030,"y":878},{"x":1052,"y":882},{"x":1076,"y":872},{"x":1100,"y":882},{"x":1125,"y":875},{"x":1152,"y":882},{"x":1178,"y":872},{"x":1205,"y":880},{"x":1230,"y":875},{"x":1256,"y":885},{"x":1280,"y":878},{"x":1305,"y":882},{"x":1328,"y":886},{"x":1015,"y":898},{"x":1040,"y":902},{"x":1062,"y":895},{"x":1088,"y":903},{"x":1112,"y":897},{"x":1135,"y":905},{"x":1162,"y":896},{"x":1190,"y":903},{"x":1215,"y":895},{"x":1240,"y":905},{"x":1265,"y":898},{"x":1290,"y":905},{"x":1315,"y":900},{"x":1340,"y":905},{"x":1362,"y":910},{"x":1005,"y":918},{"x":1028,"y":922},{"x":1052,"y":915},{"x":1075,"y":925},{"x":1100,"y":918},{"x":1125,"y":925},{"x":1150,"y":915},{"x":1175,"y":925},{"x":1200,"y":918},{"x":1228,"y":925},{"x":1252,"y":918},{"x":1278,"y":926},{"x":1302,"y":920},{"x":1326,"y":926},{"x":1350,"y":922},{"x":1375,"y":925},{"x":1040,"y":938},{"x":1062,"y":942},{"x":1088,"y":936},{"x":1112,"y":944},{"x":1138,"y":936},{"x":1162,"y":946},{"x":1186,"y":938},{"x":1212,"y":946},{"x":1238,"y":940},{"x":1262,"y":948},{"x":1288,"y":941},{"x":1314,"y":948},{"x":1338,"y":942},{"x":1362,"y":946},{"x":1392,"y":940},{"x":1052,"y":958},{"x":1075,"y":962},{"x":1098,"y":955},{"x":1122,"y":963},{"x":1146,"y":955},{"x":1170,"y":964},{"x":1194,"y":957},{"x":1218,"y":965},{"x":1244,"y":958},{"x":1270,"y":966},{"x":1296,"y":960},{"x":1322,"y":966},{"x":1346,"y":961},{"x":1070,"y":978},{"x":1090,"y":982},{"x":1112,"y":975},{"x":1135,"y":982},{"x":1158,"y":976},{"x":1180,"y":982},{"x":1204,"y":975},{"x":1226,"y":982},{"x":1250,"y":976},{"x":1274,"y":982},{"x":1298,"y":977},{"x":1322,"y":982},{"x":1100,"y":992},{"x":1122,"y":990},{"x":1148,"y":988},{"x":1172,"y":990},
{"x":1088,"y":800},{"x":1112,"y":802},{"x":1150,"y":800},{"x":1172,"y":802},{"x":1198,"y":800},{"x":1225,"y":805},{"x":1072,"y":825},{"x":1098,"y":825},{"x":1125,"y":825},{"x":1147,"y":822},{"x":1172,"y":828},{"x":1196,"y":822},{"x":1240,"y":825},{"x":1268,"y":830},{"x":1050,"y":845},{"x":1078,"y":848},{"x":1105,"y":845},{"x":1128,"y":850},{"x":1155,"y":845},{"x":1208,"y":845},{"x":1238,"y":850},{"x":1265,"y":845},{"x":1290,"y":850},{"x":1038,"y":868},{"x":1062,"y":870},{"x":1088,"y":868},{"x":1110,"y":870},{"x":1135,"y":866},{"x":1162,"y":868},{"x":1188,"y":865},{"x":1215,"y":868},{"x":1238,"y":862},{"x":1262,"y":870},{"x":1288,"y":868},{"x":1315,"y":872},{"x":1022,"y":890},{"x":1048,"y":890},{"x":1072,"y":888},{"x":1095,"y":892},{"x":1120,"y":888},{"x":1145,"y":892},{"x":1172,"y":888},{"x":1198,"y":892},{"x":1225,"y":888},{"x":1250,"y":892},{"x":1275,"y":888},{"x":1300,"y":892},{"x":1322,"y":895},{"x":1345,"y":892},{"x":1020,"y":908},{"x":1045,"y":912},{"x":1068,"y":908},{"x":1092,"y":912},{"x":1118,"y":908},{"x":1142,"y":912},{"x":1168,"y":908},{"x":1195,"y":912},{"x":1222,"y":908},{"x":1248,"y":912},{"x":1272,"y":908},{"x":1298,"y":912},{"x":1325,"y":912},{"x":1350,"y":908},{"x":1372,"y":912},{"x":1030,"y":932},{"x":1052,"y":930},{"x":1075,"y":935},{"x":1100,"y":930},{"x":1125,"y":934},{"x":1150,"y":930},{"x":1175,"y":935},{"x":1200,"y":930},{"x":1225,"y":935},{"x":1250,"y":932},{"x":1275,"y":935},{"x":1300,"y":932},{"x":1325,"y":935},{"x":1350,"y":932},{"x":1378,"y":935},{"x":1040,"y":952},{"x":1065,"y":950},{"x":1088,"y":952},{"x":1110,"y":950},{"x":1134,"y":952},{"x":1158,"y":950},{"x":1182,"y":952},{"x":1206,"y":950},{"x":1232,"y":952},{"x":1258,"y":950},{"x":1284,"y":952},{"x":1310,"y":950},{"x":1335,"y":952},{"x":1360,"y":950}],
"legendbox":[{"x":1967,"y":63,"x2":2455,"y2":493}],
"legendbar":[{"x":1973,"y":105,"x2":2004,"y2":429}],
"legendpoint":[{"x":1988,"y":481}],
"legendtext":[{"x":2006,"y":76,"t":"2D Gaussian Fit"},{"x":2027,"y":133,"t":"General model"},{"x":2026,"y":155,"t":"fitresult(x,y) = A*exp(-a*(x-x0)²)*exp(-b*(y-y0)²)+C"},{"x":2027,"y":174,"t":"Coefficients (with 95% confidence bounds)"},{"x":2035,"y":193,"t":"A ="},{"x":2086,"y":193,"t":"81.43"},{"x":2135,"y":193,"t":"(81.03, 81.83)"},{"x":2035,"y":212,"t":"C ="},{"x":2088,"y":212,"t":"1.446"},{"x":2136,"y":212,"t":"(1.402, 1.491)"},{"x":2035,"y":231,"t":"a ="},{"x":2069,"y":231,"t":"4.019e-06"},{"x":2151,"y":231,"t":"(3.979e-06, 4.06e-06)"},{"x":2035,"y":250,"t":"b ="},{"x":2069,"y":250,"t":"2.434e-06"},{"x":2151,"y":250,"t":"(2.409e-06, 2.458e-06)"},{"x":2035,"y":269,"t":"x0 ="},{"x":2097,"y":269,"t":"2439"},{"x":2142,"y":269,"t":"(2438, 2441)"},{"x":2035,"y":288,"t":"y0 ="},{"x":2097,"y":288,"t":"1871"},{"x":2142,"y":288,"t":"(1869, 1873)"},{"x":2007,"y":346,"t":"gof ="},{"x":2051,"y":383,"t":"sse: 2.5074e+07"},{"x":2034,"y":402,"t":"rsquare: 0.5489"},{"x":2051,"y":421,"t":"dfe: 239994"},{"x":2023,"y":440,"t":"adjrsquare: 0.5489"},{"x":2047,"y":459,"t":"rmse: 10.2214"}],
"ticklabels":[{"x":287,"y":108,"t":"300"},{"x":287,"y":211,"t":"250"},{"x":287,"y":314,"t":"200"},{"x":287,"y":416,"t":"150"},{"x":287,"y":519,"t":"100"},{"x":292,"y":621,"t":"50"},{"x":299,"y":725,"t":"0"},{"x":294,"y":813,"t":"3500"},{"x":326,"y":857,"t":"3000"},{"x":358,"y":901,"t":"2500"},{"x":391,"y":945,"t":"2000"},{"x":423,"y":989,"t":"1500"},{"x":456,"y":1034,"t":"1000"},{"x":493,"y":1078,"t":"500"},{"x":537,"y":1122,"t":"0"},{"x":617,"y":1158,"t":"0"},{"x":905,"y":1150,"t":"1000"},{"x":1194,"y":1141,"t":"2000"},{"x":1482,"y":1132,"t":"3000"},{"x":1770,"y":1123,"t":"4000"},{"x":2059,"y":1114,"t":"5000"}],
"ytitle":[{"x":233,"y":1153,"t":"Y-axis (pixels)"}],
"ztitle":[{"x":265,"y":451,"t":"Intensity"}]
},
"encoding":{"x":{"field":"x","type":"quantitative","scale":{"domain":[0,2560]},"axis":null},"y":{"field":"y","type":"quantitative","scale":{"domain":[1254,0]},"axis":null}},
"layer":[
{"data":{"name":"grid"},"mark":{"type":"rule","stroke":"#000000","strokeWidth":1,"strokeDash":[1,5]},"encoding":{"x2":{"field":"x2"},"y2":{"field":"y2"}}},
{"data":{"name":"ticks"},"mark":{"type":"rule","stroke":"#000000","strokeWidth":0.8},"encoding":{"x2":{"field":"x2"},"y2":{"field":"y2"}}},
{"data":{"name":"box"},"mark":{"type":"rule","stroke":"#000000","strokeWidth":1.2},"encoding":{"x2":{"field":"x2"},"y2":{"field":"y2"}}},
{"data":{"name":"floor"},"mark":{"type":"area","fill":"#03038f","opacity":1},"encoding":{"y2":{"field":"y2"}}},
{"data":{"name":"edge"},"mark":{"type":"rule","stroke":"#152a85","strokeWidth":3},"encoding":{"x2":{"field":"x2"},"y2":{"field":"y2"}}},
{"data":{"name":"rowlines"},"mark":{"type":"rule","stroke":"#000000","strokeWidth":1.1},"encoding":{"x2":{"field":"x2"},"y2":{"field":"y2"}}},
{"data":{"name":"collines"},"mark":{"type":"rule","stroke":"#000000","strokeWidth":0.7},"encoding":{"x2":{"field":"x2"},"y2":{"field":"y2"}}},
{"data":{"name":"haze"},"mark":{"type":"area","fill":"#152a85","opacity":0.45},"encoding":{"y2":{"field":"y2"}}},
{"data":{"name":"cloud"},"mark":{"type":"area","fill":"#152a85","opacity":1},"encoding":{"y2":{"field":"y2"}}},
{"data":{"name":"quads"},"transform":[{"flatten":["x","y"]}],"mark":{"type":"line","interpolate":"linear-closed","stroke":"#000000","strokeWidth":0.8},"encoding":{"detail":{"field":"q"},"order":{"value":null},"fill":{"field":"f","type":"quantitative","legend":null,"scale":{"domain":[0,0.125,0.375,0.625,0.875,1],"range":["#00008f","#0000ff","#00ffff","#ffff00","#ff0000","#800000"]}}}},
{"data":{"name":"veil"},"mark":{"type":"area","fill":"#152a85","opacity":0.7},"encoding":{"y2":{"field":"y2"}}},
{"data":{"name":"front"},"mark":{"type":"rule","stroke":"#000000","strokeWidth":1.2},"encoding":{"x2":{"field":"x2"},"y2":{"field":"y2"}}},
{"data":{"name":"points"},"mark":{"type":"point","shape":"diamond","filled":true,"size":55,"color":"#152a85","opacity":1}},
{"data":{"name":"legendbox"},"mark":{"type":"rect","fill":"#ffffff","stroke":"#000000","strokeWidth":1},"encoding":{"x2":{"field":"x2"},"y2":{"field":"y2"}}},
{"data":{"name":"legendbar"},"mark":{"type":"rect","fill":"#0000a8","stroke":"#000000","strokeWidth":0.6},"encoding":{"x2":{"field":"x2"},"y2":{"field":"y2"}}},
{"data":{"name":"legendpoint"},"mark":{"type":"point","shape":"diamond","filled":true,"size":40,"color":"#152a85","opacity":1}},
{"data":{"name":"legendtext"},"mark":{"type":"text","align":"left","baseline":"middle","font":"Liberation Sans","fontSize":17,"color":"#000000","stroke":"#000000","strokeWidth":0.3},"encoding":{"text":{"field":"t"}}},
{"data":{"name":"ticklabels"},"mark":{"type":"text","align":"left","baseline":"middle","font":"Liberation Sans","fontSize":11,"color":"#000000"},"encoding":{"text":{"field":"t"}}},
{"data":{"name":"ytitle"},"mark":{"type":"text","align":"left","baseline":"middle","font":"Liberation Sans","fontSize":15,"color":"#222222"},"encoding":{"text":{"field":"t"}}},
{"data":{"name":"ztitle"},"mark":{"type":"text","align":"center","baseline":"middle","angle":270,"font":"Liberation Sans","fontSize":16,"color":"#222222"},"encoding":{"text":{"field":"t"}}}
]}
